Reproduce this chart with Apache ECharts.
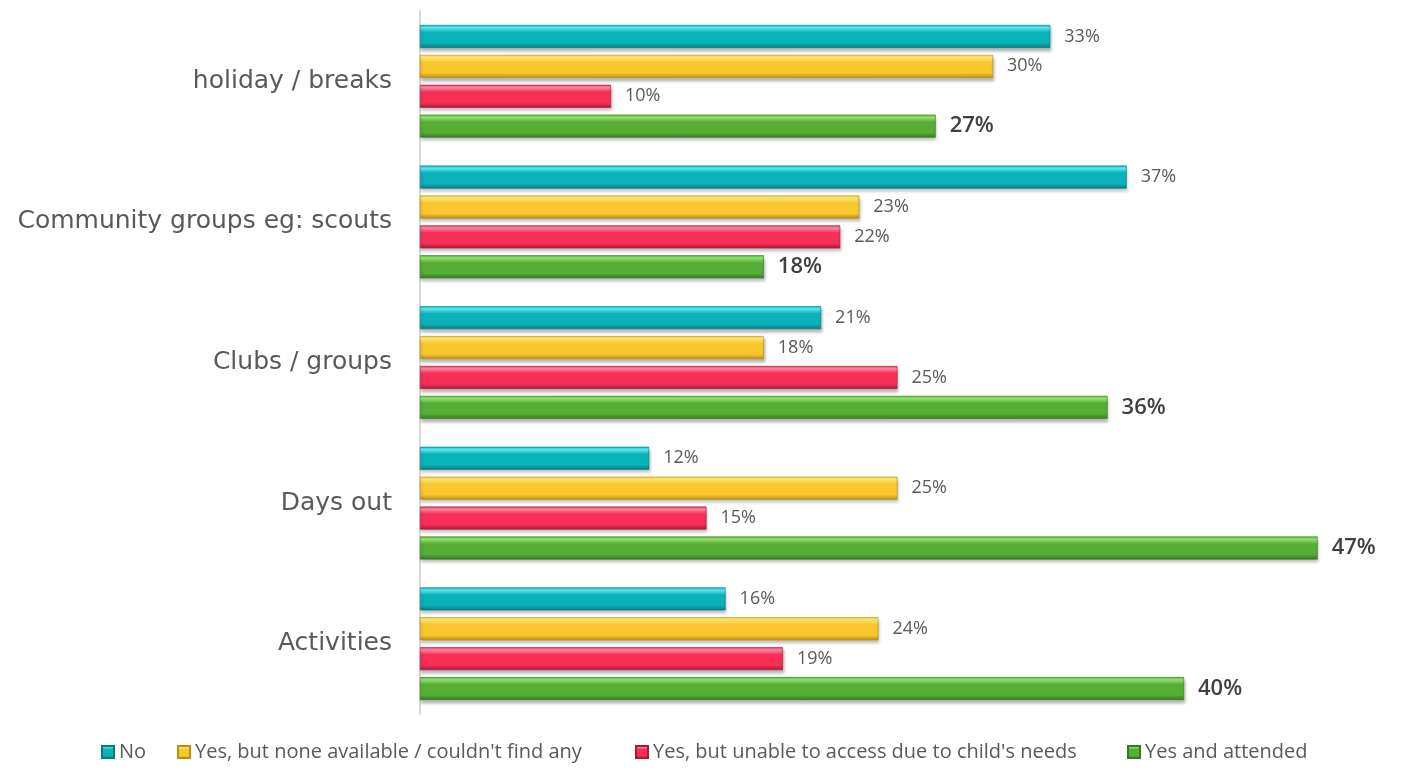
<!DOCTYPE html>
<html>
<head>
<meta charset="utf-8">
<script src="https://cdn.jsdelivr.net/npm/echarts@6/dist/echarts.min.js"></script>
<style>
  html, body { margin: 0; padding: 0; background: #fff; }
  #chart { width: 1402px; height: 776px; }
</style>
</head>
<body>
<div id="chart"></div>
<script>
// Categories listed top to bottom
const categories = ['holiday / breaks', 'Community groups eg: scouts', 'Clubs / groups', 'Days out', 'Activities'];

// Series names (legend order)
const seriesNames = [
  'No',
  "Yes, but none available / couldn't find any",
  "Yes, but unable to access due to child's needs",
  'Yes and attended'
];

// Percentages per category, same order as categories
const noValues          = [33, 37, 21, 12, 16];
const noneAvailable     = [30, 23, 18, 25, 24];
const unableToAccess    = [10, 22, 25, 15, 19];
const attendedValues    = [27, 18, 36, 47, 40];

const seriesValues = [noValues, noneAvailable, unableToAccess, attendedValues];

// Base / light / dark tones for the bevelled bar look
const palette = [
  { light: '#5EF2F8', base: '#0AB2B9', dark: '#067C82' },
  { light: '#FFF27A', base: '#FCC62E', dark: '#B98E12' },
  { light: '#FF8FA8', base: '#F72F57', dark: '#A81A38' },
  { light: '#9CEB74', base: '#56AE36', dark: '#357A20' }
];

function bevel(p) {
  return new echarts.graphic.LinearGradient(0, 0, 0, 1, [
    { offset: 0, color: p.base },
    { offset: 0.12, color: p.light },
    { offset: 0.32, color: p.base },
    { offset: 0.78, color: p.base },
    { offset: 1, color: p.dark }
  ]);
}

const chart = echarts.init(document.getElementById('chart'), null, { renderer: 'canvas' });

const series = seriesValues.map((vals, i) => {
  const isAttended = i === 3;
  return {
    name: seriesNames[i],
    type: 'bar',
    data: vals,
    barWidth: 23,
    barGap: '30%',
    itemStyle: {
      color: bevel(palette[i]),
      borderColor: palette[i].dark,
      borderWidth: 0.6,
      shadowColor: 'rgba(0,0,0,0.28)',
      shadowBlur: 3,
      shadowOffsetX: 1,
      shadowOffsetY: 3
    },
    label: {
      show: true,
      position: 'right',
      distance: 14,
      formatter: '{c}%',
      fontFamily: '"Open Sans"',
      fontSize: isAttended ? 22 : 18,
      fontWeight: isAttended ? 600 : 'normal',
      color: isAttended ? '#404040' : '#595959'
    },
    emphasis: { disabled: true }
  };
});

// One legend block per series, laid out in a row along the bottom
const legendLefts = [96, 172, 630, 1122];
const legends = seriesNames.map((name, i) => ({
  data: [name],
  left: legendLefts[i],
  bottom: 9,
  icon: 'rect',
  itemWidth: 12,
  itemHeight: 12,
  selectedMode: false,
  textStyle: {
    fontFamily: '"Open Sans"',
    fontSize: 20,
    color: '#595959'
  }
}));

chart.setOption({
  animation: false,
  backgroundColor: '#ffffff',
  grid: { left: 420, right: 27, top: 11, height: 703 },
  legend: legends,
  xAxis: {
    type: 'value',
    min: 0,
    max: 50,
    show: false
  },
  yAxis: {
    type: 'category',
    data: categories,
    inverse: true,
    axisLine: { show: true, lineStyle: { color: '#D9D9D9', width: 2 } },
    axisTick: { show: false },
    axisLabel: {
      fontFamily: '"DejaVu Sans"',
      fontSize: 25,
      color: '#595959',
      margin: 28
    }
  },
  series: series
});
</script>
</body>
</html>
